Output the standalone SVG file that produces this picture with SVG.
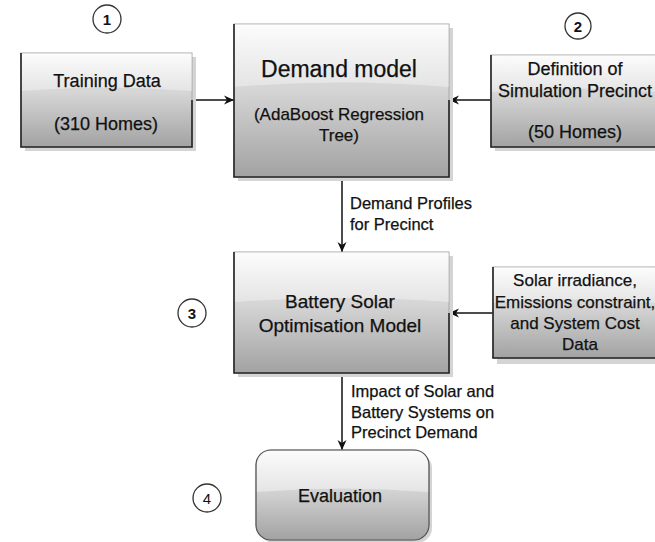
<svg xmlns="http://www.w3.org/2000/svg" width="655" height="542" viewBox="0 0 655 542">
<style>
.t{font-family:"Liberation Sans",Arial,sans-serif;fill:#111;stroke:#111;stroke-width:0.25;text-anchor:middle}
.b{font-size:18px}
.lab{font-family:"Liberation Sans",Arial,sans-serif;fill:#111;stroke:#111;stroke-width:0.25;font-size:16.5px}
.num{font-family:"Liberation Sans",Arial,sans-serif;font-weight:bold;font-size:15px;fill:#111;text-anchor:middle}
.shadow{fill:#d4d4d4}
.box{fill:url(#g);stroke:#a8a8a8;stroke-width:1}
.edge{fill:none;stroke:#222;stroke-width:1.6}
.gloss{fill:url(#gl)}
.circ{fill:#fff;stroke:#333;stroke-width:1.3}
.con{stroke:#111;stroke-width:1.5;fill:none;marker-end:url(#ah)}
</style>
<defs>
<linearGradient id="g" x1="0" y1="0" x2="0" y2="1">
<stop offset="0" stop-color="#dcdcdc"/>
<stop offset="0.42" stop-color="#d6d6d6"/>
<stop offset="1" stop-color="#a2a2a2"/>
</linearGradient>
<linearGradient id="gl" x1="0" y1="0" x2="0" y2="1">
<stop offset="0" stop-color="#fcfcfc"/>
<stop offset="1" stop-color="#e4e4e4"/>
</linearGradient>
<marker id="ah" viewBox="0 0 10 10" refX="10" refY="5" markerWidth="10" markerHeight="10" markerUnits="userSpaceOnUse" orient="auto">
<path d="M0,0.5 L10,5 L0,9.5 L3,5 Z" fill="#111"/>
</marker>
</defs>

<g id="connectors">
<line class="con" x1="192" y1="100" x2="234" y2="100"/>
<line class="con" x1="491" y1="100" x2="449" y2="100"/>
<line class="con" x1="342" y1="177" x2="342" y2="252"/>
<line class="con" x1="493" y1="313" x2="449" y2="313"/>
<line class="con" x1="342" y1="373" x2="342" y2="450"/>
<text class="lab" x="350" y="209">Demand Profiles</text>
<text class="lab" x="350" y="230">for Precinct</text>
<text class="lab" x="351" y="397">Impact of Solar and</text>
<text class="lab" x="351" y="418">Battery Systems on</text>
<text class="lab" x="351" y="438">Precinct Demand</text>
</g>

<g id="training">
<rect class="shadow" x="25" y="57" width="171" height="94"/>
<rect class="box" x="21" y="53" width="171" height="94"/>
<path class="gloss" d="M21.5,53.5 H191.5 V91 Q106,84 21.5,91 Z"/>
<polyline class="edge" points="21,53 21,147 192,147 192,100"/>
<text class="t b" x="107" y="87">Training Data</text>
<text class="t b" x="106" y="130">(310 Homes)</text>
</g>

<g id="demand">
<rect class="shadow" x="238" y="28" width="215" height="153"/>
<rect class="box" x="234" y="24" width="215" height="153"/>
<path class="gloss" d="M234.5,24.5 H448.5 V87 Q341,78 234.5,87 Z"/>
<polyline class="edge" points="234,24 234,177 449,177 449,100"/>
<text class="t" x="339" y="77" style="font-size:23px">Demand model</text>
<text class="t" x="339" y="120" style="font-size:17px">(AdaBoost Regression</text>
<text class="t" x="339" y="141" style="font-size:17px">Tree)</text>
</g>

<g id="precinct">
<rect class="shadow" x="495" y="59" width="166" height="92"/>
<rect class="box" x="491" y="55" width="166" height="92"/>
<path class="gloss" d="M491.5,55.5 H656.5 V92 Q574,85 491.5,92 Z"/>
<polyline class="edge" points="491,55 491,147 657,147"/>
<text class="t b" x="575" y="75">Definition of</text>
<text class="t b" x="575" y="97">Simulation Precinct</text>
<text class="t b" x="575" y="138">(50 Homes)</text>
</g>

<g id="battery">
<rect class="shadow" x="238" y="256" width="215" height="121"/>
<rect class="box" x="234" y="252" width="215" height="121"/>
<path class="gloss" d="M234.5,252.5 H448.5 V302 Q341,294 234.5,302 Z"/>
<polyline class="edge" points="234,252 234,373 449,373 449,313"/>
<text class="t" x="340" y="308" style="font-size:19px">Battery Solar</text>
<text class="t" x="340" y="332" style="font-size:19px">Optimisation Model</text>
</g>

<g id="solar">
<rect class="shadow" x="497" y="271" width="165" height="93"/>
<rect class="box" x="493" y="267" width="165" height="91"/>
<path class="gloss" d="M493.5,267.5 H657.5 V303 Q575,296 493.5,303 Z"/>
<polyline class="edge" points="493,267 493,358 658,358"/>
<text class="t" x="575" y="286" style="font-size:17px">Solar irradiance,</text>
<text class="t" x="575" y="307.5" style="font-size:17px">Emissions constraint,</text>
<text class="t" x="575" y="329" style="font-size:17px">and System Cost</text>
<text class="t" x="580" y="350" style="font-size:17px">Data</text>
</g>

<g id="evaluation">
<rect class="shadow" x="259" y="453" width="173" height="90" rx="15"/>
<rect class="box" x="256" y="450" width="173" height="90" rx="15"/>
<path class="gloss" d="M271,450.5 H414 Q428.5,450.5 428.5,465 V492 Q342,485 256.5,492 V465 Q256.5,450.5 271,450.5 Z"/>
<rect x="256" y="450" width="173" height="90" rx="15" fill="none" stroke="#555" stroke-width="1.2"/>
<text class="t b" x="340" y="502">Evaluation</text>
</g>

<g id="marker1"><circle class="circ" cx="107" cy="19" r="14"/><text class="num" x="107" y="24.5">1</text></g>
<g id="marker2"><circle class="circ" cx="578" cy="26" r="13"/><text class="num" x="578" y="31.5">2</text></g>
<g id="marker3"><circle class="circ" cx="192" cy="313" r="14"/><text class="num" x="192" y="318.5">3</text></g>
<g id="marker4"><circle class="circ" cx="207" cy="498" r="14"/><text class="num" x="207" y="503.5" style="font-weight:normal">4</text></g>
</svg>
